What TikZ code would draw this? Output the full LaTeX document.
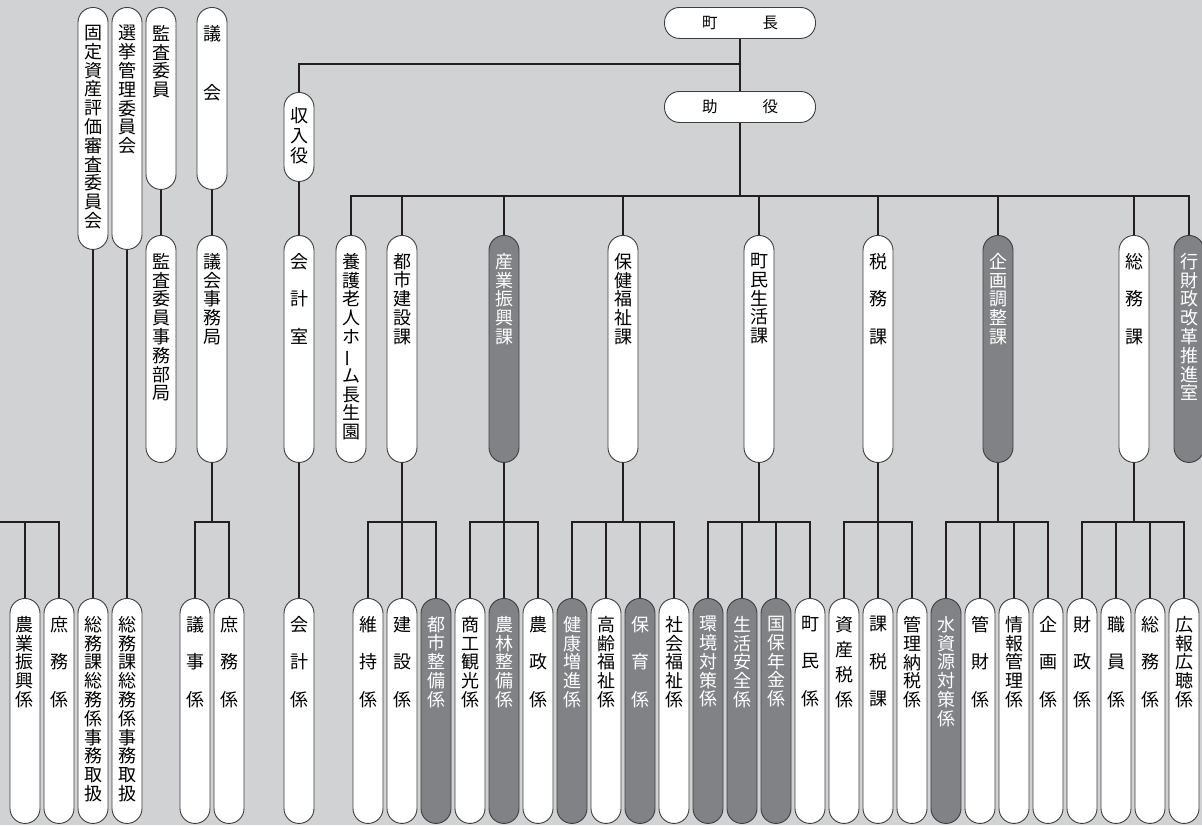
\documentclass[tikz,border=0pt]{standalone}
\usepackage{fontspec}
\usepackage{graphicx}
\usetikzlibrary{positioning}
\newfontfamily\jp{Noto Sans CJK JP}
\definecolor{bgc}{RGB}{209,210,212}
\definecolor{dkc}{RGB}{129,130,134}
\definecolor{lnc}{RGB}{35,31,32}
\definecolor{edc}{RGB}{62,62,64}

\begin{document}
\begin{tikzpicture}[x=1pt,y=-1pt,
  pill/.style={draw=edc,line width=0.9pt,fill=white,rounded corners=15pt,minimum width=30pt,inner sep=0pt,anchor=north},
  tt/.style={align=center,inner sep=0pt,font=\jp\fontsize{18}{18.8}\selectfont},
  sp/.style={tt,font=\jp\fontsize{18}{37.5}\selectfont},
  sq/.style={tt,font=\jp\fontsize{18}{25}\selectfont},
  gk/.style={tt,font=\jp\fontsize{18}{59}\selectfont},
  conn/.style={draw=lnc,line width=2.6pt}]
  \fill[bgc] (0,0) rectangle (1202,825);
  \useasboundingbox (0,0) rectangle (1202,825);
  % top
  \node[pill,minimum width=151pt,minimum height=31pt,font=\jp\fontsize{15.5}{16}\selectfont] (cho) at (740,7) {町\hspace{45pt}長};
  \node[pill,minimum width=151pt,minimum height=31pt,font=\jp\fontsize{15.5}{16}\selectfont] (joyaku) at (740,91) {助\hspace{45pt}役};
  \node[pill,minimum height=89pt] (shunyu) at (299,92) {};
  \node[tt,font=\jp\fontsize{18}{20}\selectfont,below=15pt of shunyu.north] (shunyu-t) {収\\入\\役};
  % committees
  \foreach \x/\nm/\h/\s/\lab in {
    93/kotei/242/tt/{固\\定\\資\\産\\評\\価\\審\\査\\委\\員\\会},
    127/senkyo/242/tt/{選\\挙\\管\\理\\委\\員\\会},
    161/kansa/182/tt/{監\\査\\委\\員},
    212/gikai/182/gk/{議\\会}}
  { \node[pill,minimum height=\h pt] (\nm) at (\x,7) {};
    \node[\s,below=18pt of \nm.north] (\nm-t) {\lab}; }
  % second row
  \foreach \x/\nm/\fc/\tc/\s/\lab in {
    161/kansajim/white/black/tt/{監\\査\\委\\員\\事\\務\\部\\局},
    212/gikaijim/white/black/tt/{議\\会\\事\\務\\局},
    299/kshitsu/white/black/sp/{会\\計\\室},
    351/yogo/white/black/tt/{養\\護\\老\\人\\ホ\\\rotatebox[origin=c]{90}{ー}\\ム\\長\\生\\園},
    402/toshi/white/black/tt/{都\\市\\建\\設\\課},
    504/sangyo/dkc/white/tt/{産\\業\\振\\興\\課},
    623/hoken/white/black/tt/{保\\健\\福\\祉\\課},
    759/chominka/white/black/tt/{町\\民\\生\\活\\課},
    878/zeimu/white/black/sp/{税\\務\\課},
    998/kikakuka/dkc/white/tt/{企\\画\\調\\整\\課},
    1134/somuka/white/black/sp/{総\\務\\課},
    1189/gyozai/dkc/white/tt/{行\\財\\政\\改\\革\\推\\進\\室}}
  { \node[pill,fill=\fc,minimum height=227pt] (\nm) at (\x,235) {};
    \node[\s,text=\tc,below=18pt of \nm.north] (\nm-t) {\lab}; }
  % bottom row
  \foreach \x/\nm/\fc/\tc/\s/\lab in {
    25/nogyo/white/black/tt/{農\\業\\振\\興\\係},
    59/shomuA/white/black/sp/{庶\\務\\係},
    93/somuA/white/black/tt/{総\\務\\課\\総\\務\\係\\事\\務\\取\\扱},
    127/somuB/white/black/tt/{総\\務\\課\\総\\務\\係\\事\\務\\取\\扱},
    195/giji/white/black/sp/{議\\事\\係},
    229/shomuB/white/black/sp/{庶\\務\\係},
    299/kaikei/white/black/sp/{会\\計\\係},
    368/iji/white/black/sp/{維\\持\\係},
    402/kensetsu/white/black/sp/{建\\設\\係},
    436/tseibi/dkc/white/tt/{都\\市\\整\\備\\係},
    470/shoko/white/black/tt/{商\\工\\観\\光\\係},
    504/norin/dkc/white/tt/{農\\林\\整\\備\\係},
    538/nosei/white/black/sp/{農\\政\\係},
    572/kenko/dkc/white/tt/{健\\康\\増\\進\\係},
    606/korei/white/black/tt/{高\\齢\\福\\祉\\係},
    640/hoiku/dkc/white/sp/{保\\育\\係},
    674/shakai/white/black/tt/{社\\会\\福\\祉\\係},
    708/kankyo/dkc/white/tt/{環\\境\\対\\策\\係},
    742/anzen/dkc/white/tt/{生\\活\\安\\全\\係},
    776/kokuho/dkc/white/tt/{国\\保\\年\\金\\係},
    810/chomin/white/black/sp/{町\\民\\係},
    844/shisan/white/black/sq/{資\\産\\税\\係},
    878/kazei/white/black/sp/{課\\税\\課},
    912/nozei/white/black/tt/{管\\理\\納\\税\\係},
    946/mizu/dkc/white/tt/{水\\資\\源\\対\\策\\係},
    980/kanzai/white/black/sp/{管\\財\\係},
    1014/joho/white/black/tt/{情\\報\\管\\理\\係},
    1048/kikaku/white/black/sp/{企\\画\\係},
    1082/zaisei/white/black/sp/{財\\政\\係},
    1116/shokuin/white/black/sp/{職\\員\\係},
    1150/somu/white/black/sp/{総\\務\\係},
    1184/koho/white/black/tt/{広\\報\\広\\聴\\係}}
  { \node[pill,fill=\fc,minimum height=225pt] (\nm) at (\x,598) {};
    \node[\s,text=\tc,below=18pt of \nm.north] (\nm-t) {\lab}; }
  % connectors
  \draw[conn] (cho.south) -- (joyaku.north);
  \coordinate (k1) at (740,64);
  \draw[conn] (k1) -| (shunyu.north);
  \draw[conn] (shunyu.south) -- (kshitsu.north);
  \draw[conn] (kshitsu.south) -- (kaikei.north);
  \draw[conn] (kotei.south) -- (somuA.north);
  \draw[conn] (senkyo.south) -- (somuB.north);
  \draw[conn] (kansa.south) -- (kansajim.north);
  \draw[conn] (gikai.south) -- (gikaijim.north);
  \coordinate (dbar) at (740,196);
  \draw[conn] (joyaku.south) -- (dbar);
  \foreach \d in {yogo,toshi,sangyo,hoken,chominka,zeimu,kikakuka,somuka,gyozai}
    \draw[conn] (\d.north) |- (dbar);
  \coordinate (gy) at (0,522);
  \foreach \p/\cs in {gikaijim/{giji,shomuB}, toshi/{iji,kensetsu,tseibi},
      sangyo/{shoko,norin,nosei}, hoken/{kenko,korei,hoiku,shakai},
      chominka/{kankyo,anzen,kokuho,chomin}, zeimu/{shisan,kazei,nozei},
      kikakuka/{mizu,kanzai,joho,kikaku}, somuka/{zaisei,shokuin,somu,koho}}
  { \draw[conn] (\p.south) -- (\p.south |- gy);
    \foreach \ch in \cs \draw[conn] (\ch.north) |- (\p.south |- gy); }
  \coordinate (edge) at (0,522);
  \draw[conn] (edge) -| (shomuA.north);
  \draw[conn] (nogyo.north) -- (nogyo.north |- edge);
\end{tikzpicture}
\end{document}
